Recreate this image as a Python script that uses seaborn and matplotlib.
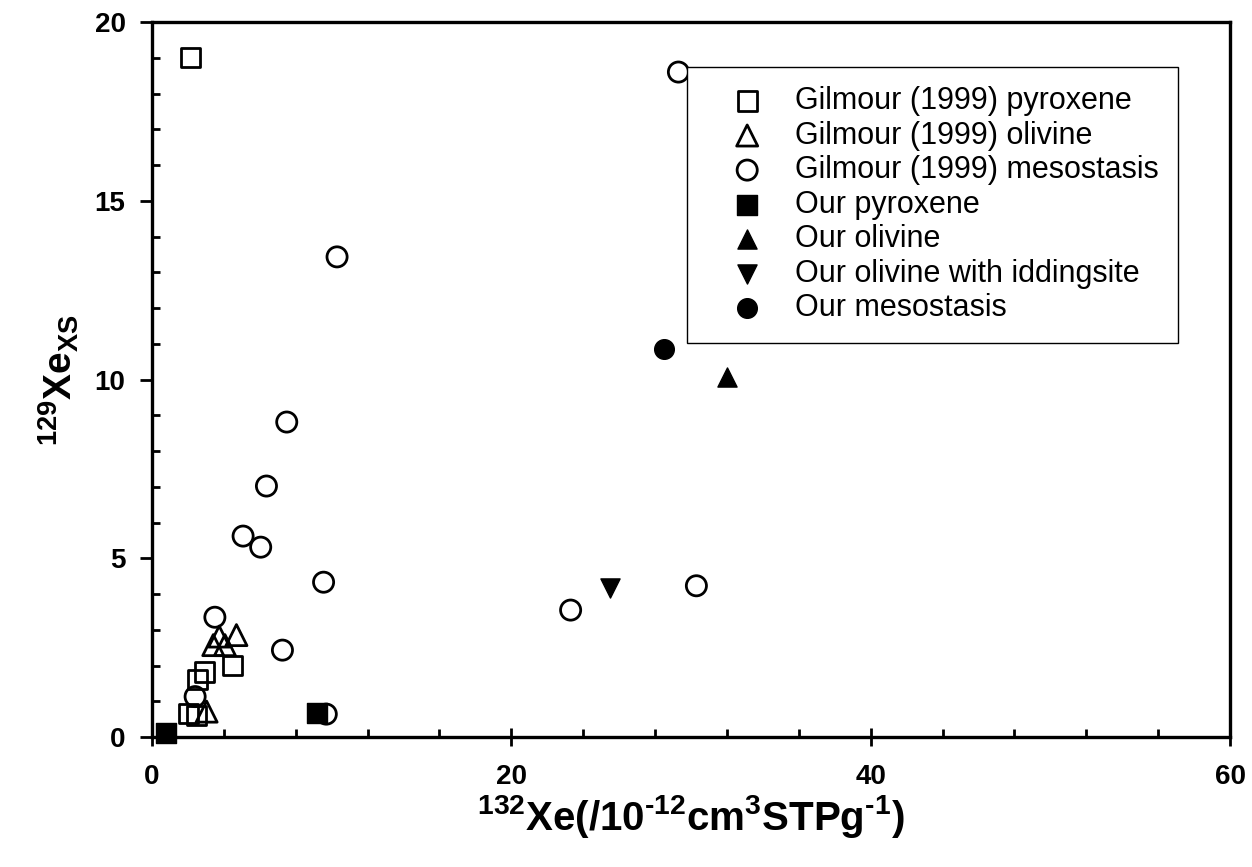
import matplotlib
matplotlib.use("Agg")
import matplotlib.pyplot as plt
import seaborn as sns
import pandas as pd
from matplotlib.ticker import MultipleLocator

# ---- data ----
gil_pyx_x = [2.15, 2.05, 2.5, 2.55, 2.9, 4.5]
gil_pyx_y = [19.0, 0.66, 0.60, 1.60, 1.82, 2.00]

gil_oli_x = [3.41, 4.06, 3.74, 4.7, 3.04]
gil_oli_y = [2.57, 2.57, 2.81, 2.85, 0.71]

gil_mes_x = [29.3, 10.3, 7.5, 6.37, 5.07, 6.05, 9.55, 3.5, 7.26, 2.4, 9.7, 23.3, 30.3]
gil_mes_y = [18.6, 13.43, 8.81, 7.02, 5.62, 5.31, 4.33, 3.35, 2.43, 1.13, 0.64, 3.55, 4.23]

our_pyx_x = [0.8, 9.2]
our_pyx_y = [0.1, 0.67]

our_oli_x = [32.0]
our_oli_y = [10.07]

our_idd_x = [25.5]
our_idd_y = [4.17]

our_mes_x = [28.5]
our_mes_y = [10.84]

labels = ["Gilmour (1999) pyroxene", "Gilmour (1999) olivine", "Gilmour (1999) mesostasis",
          "Our pyroxene", "Our olivine", "Our olivine with iddingsite", "Our mesostasis"]

x_ticks = [0, 20, 40, 60]
y_ticks = [0, 5, 10, 15, 20]

sns.set_style("ticks")
plt.rcParams["font.family"] = ["Liberation Sans", "DejaVu Sans"]
plt.rcParams["mathtext.fontset"] = "custom"
plt.rcParams["mathtext.rm"] = "Liberation Sans:bold"
plt.rcParams["mathtext.it"] = "Liberation Sans:bold"
plt.rcParams["mathtext.bf"] = "Liberation Sans:bold"
for k in ["text.color", "axes.labelcolor", "xtick.color", "ytick.color", "axes.edgecolor"]:
    plt.rcParams[k] = "black"

fig = plt.figure(figsize=(12.52, 8.67), dpi=100)
ax = fig.add_axes([152/1252, 1 - 737/867, (1230-152)/1252, (737-22)/867])

series = [
    (gil_pyx_x, gil_pyx_y, "s", False, 190),
    (gil_oli_x, gil_oli_y, "^", False, 230),
    (gil_mes_x, gil_mes_y, "o", False, 210),
    (our_pyx_x, our_pyx_y, "s", True, 190),
    (our_oli_x, our_oli_y, "^", True, 190),
    (our_idd_x, our_idd_y, "v", True, 190),
    (our_mes_x, our_mes_y, "o", True, 200),
]

for (xs, ys, m, filled, s), lab in zip(series, labels):
    df = pd.DataFrame({"x": xs, "y": ys})
    if filled:
        sns.scatterplot(data=df, x="x", y="y", marker=m, s=s, color="black",
                        edgecolor="black", linewidth=1.0, label=lab, ax=ax,
                        clip_on=False, zorder=4)
    else:
        sns.scatterplot(data=df, x="x", y="y", marker=m, s=s, facecolor="none",
                        edgecolor="black", linewidth=2.0, label=lab, ax=ax,
                        clip_on=False, zorder=3)

ax.set_xlim(0, 60)
ax.set_ylim(0, 20)
ax.set_xticks(x_ticks)
ax.set_xticklabels([str(v) for v in x_ticks], fontsize=20, fontweight="bold")
ax.set_yticks(y_ticks)
ax.set_yticklabels([str(v) for v in y_ticks], fontsize=20, fontweight="bold")
ax.xaxis.set_minor_locator(MultipleLocator(4))
ax.yaxis.set_minor_locator(MultipleLocator(1))

for sp in ax.spines.values():
    sp.set_linewidth(2.4)
    sp.set_visible(True)

ax.tick_params(axis="x", which="major", direction="inout", length=13, width=2, pad=13)
ax.tick_params(axis="x", which="minor", direction="in", length=6, width=2)
ax.tick_params(axis="y", which="major", direction="out", length=9, width=2, pad=10)
ax.tick_params(axis="y", which="minor", direction="in", length=6, width=2)

ax.set_xlabel(r"$\mathrm{^{132}Xe(/10^{‐12}cm^{3}STPg^{‐1})}$", fontsize=29, labelpad=2)
ax.set_ylabel(r"$\mathrm{^{129}Xe_{XS}}$", fontsize=28, labelpad=10)

leg = ax.legend(loc="upper left", bbox_to_anchor=((687-152)/1078, (737-66.7)/715),
                fontsize=22, frameon=True, fancybox=False, framealpha=1,
                edgecolor="black", borderpad=0.63, handlelength=2.68,
                handletextpad=0.23, labelspacing=0.15, borderaxespad=0)
leg.get_frame().set_linewidth(1.0)
leg.set_zorder(5)

fig.savefig("out.png", dpi=100)
